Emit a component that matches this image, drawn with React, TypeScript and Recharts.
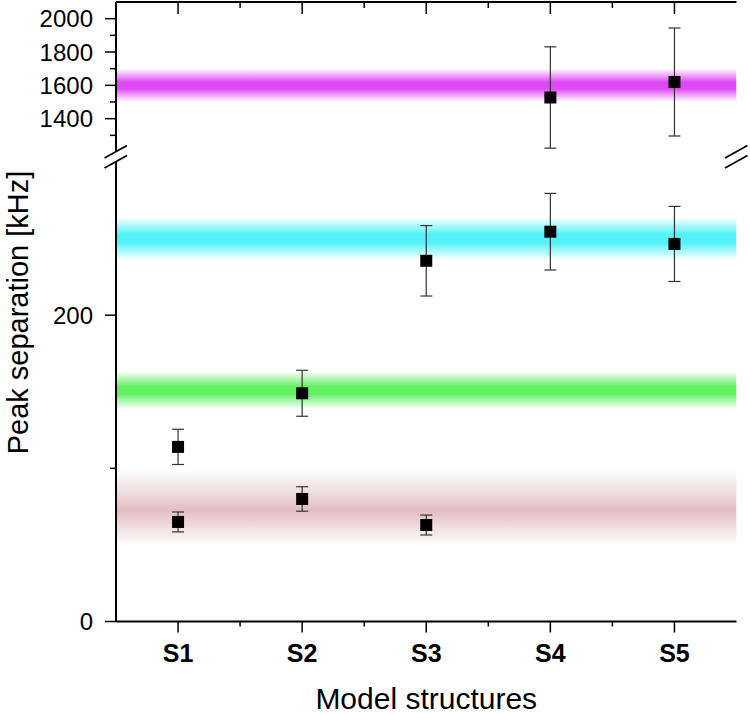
import { ScatterChart, Scatter, XAxis, YAxis, ErrorBar, ReferenceArea } from 'recharts'

const structures = ['S1', 'S2', 'S3', 'S4', 'S5']
const minorX = [1.5, 2.5, 3.5, 4.5]

const peakStructure = ['S1', 'S1', 'S2', 'S2', 'S3', 'S3', 'S4', 'S4', 'S5', 'S5']
const peakValue = [114, 65, 149, 80, 235.5, 63, 254.5, 1527, 246.5, 1620]
const peakError = [11.5, 6.5, 15, 8, 23, 6.5, 25, 304, 24.5, 324]

const bandCenter = [75, 151, 250, 1600]
const bandHalf = [25, 12.5, 14, 100]
const bandColor = ['#dfb6bb', '#62f062', '#52f2f6', '#de48f7']

const lowerDomain = [0, 300]
const upperDomain = [1200, 2100]
const lowerMajor = [0, 200]
const lowerMinor = [100]
const upperMajor = [1400, 1600, 1800, 2000]
const upperMinor = [1300, 1500, 1700, 1900]

const W = 750
const H = 714
const LEFT = 116
const RIGHT = 736.5
const TOP = 2
const BREAK_TOP = 152
const BREAK_BOTTOM = 162
const BOTTOM = 621.5

const points = peakStructure.map((s, i) => ({
  x: structures.indexOf(s) + 1,
  y: peakValue[i],
  err: peakError[i],
}))
const lowerPoints = points.filter((p) => p.y <= lowerDomain[1])
const upperPoints = points.filter((p) => p.y >= upperDomain[0])

const xTicks = [...structures.map((_, i) => i + 1), ...minorX].sort((a, b) => a - b)

function YTick(props: any) {
  const { x, y, payload, major } = props
  const isMajor = major.includes(payload.value)
  return (
    <g>
      <line x1={x - (isMajor ? 11 : 6)} x2={x} y1={y} y2={y} stroke="#000" strokeWidth={1.5} />
      {isMajor && (
        <text x={x - 23} y={y} dy="0.36em" textAnchor="end" fontSize={24} fill="#000">
          {payload.value}
        </text>
      )}
    </g>
  )
}

function XTickBottom(props: any) {
  const { x, y, payload } = props
  const isMajor = Number.isInteger(payload.value)
  return (
    <g>
      <line x1={x} x2={x} y1={y} y2={y + (isMajor ? 11 : 5)} stroke="#000" strokeWidth={1.5} />
      {isMajor && (
        <text x={x} y={y + 31.5} dy="0.36em" textAnchor="middle" fontSize={25} fontWeight="bold" fill="#000">
          {structures[payload.value - 1]}
        </text>
      )}
    </g>
  )
}

function XTickTop(props: any) {
  const { x, y, payload } = props
  const isMajor = Number.isInteger(payload.value)
  return <line x1={x} x2={x} y1={y} y2={y + (isMajor ? 12 : 6)} stroke="#000" strokeWidth={1.5} />
}

const square = (p: any) => <rect x={p.cx - 6} y={p.cy - 6} width={12} height={12} fill="#000" />

function Bands() {
  return bandCenter.map((c, i) => (
    <ReferenceArea
      key={i}
      y1={c - bandHalf[i]}
      y2={c + bandHalf[i]}
      fill={`url(#band${i})`}
      fillOpacity={1}
      stroke="none"
      ifOverflow="hidden"
    />
  ))
}

export default function App() {
  return (
    <div
      style={{
        position: 'absolute',
        left: 0,
        top: 0,
        width: W,
        height: H,
        background: '#fff',
        fontFamily: '"Liberation Sans", Arial, sans-serif',
      }}
    >
      <svg width={0} height={0} style={{ position: 'absolute' }}>
        <defs>
          {bandColor.map((col, i) =>
            i === 0 ? (
              <linearGradient key={i} id={`band${i}`} x1="0" y1="0" x2="0" y2="1">
                <stop offset="0" stopColor={col} stopOpacity={0} />
                <stop offset="0.3" stopColor={col} stopOpacity={0.45} />
                <stop offset="0.55" stopColor={col} stopOpacity={0.9} />
                <stop offset="0.8" stopColor={col} stopOpacity={0.4} />
                <stop offset="1" stopColor={col} stopOpacity={0} />
              </linearGradient>
            ) : (
              <linearGradient key={i} id={`band${i}`} x1="0" y1="0" x2="0" y2="1">
                <stop offset="0" stopColor={col} stopOpacity={0} />
                <stop offset="0.25" stopColor={col} stopOpacity={0.6} />
                <stop offset="0.4" stopColor={col} stopOpacity={1} />
                <stop offset="0.6" stopColor={col} stopOpacity={1} />
                <stop offset="0.75" stopColor={col} stopOpacity={0.6} />
                <stop offset="1" stopColor={col} stopOpacity={0} />
              </linearGradient>
            )
          )}
        </defs>
      </svg>

      <div style={{ position: 'absolute', left: 0, top: 0 }}>
        <ScatterChart
          width={W}
          height={H}
          margin={{ top: BREAK_BOTTOM, right: W - RIGHT, bottom: 0, left: 0 }}
        >
          <XAxis
            dataKey="x"
            type="number"
            domain={[0.5, 5.5]}
            ticks={xTicks}
            interval={0}
            height={H - BOTTOM}
            tickSize={0}
            tickMargin={0}
            tickLine={false}
            axisLine={{ stroke: '#000', strokeWidth: 2 }}
            tick={XTickBottom}
            label={{ value: 'Model structures', position: 'insideBottom', offset: 5, fontSize: 30, fill: '#000' }}
          />
          <YAxis
            dataKey="y"
            type="number"
            domain={lowerDomain}
            allowDataOverflow
            ticks={[...lowerMajor, ...lowerMinor]}
            interval={0}
            width={LEFT}
            tickSize={0}
            tickMargin={0}
            tickLine={false}
            axisLine={{ stroke: '#000', strokeWidth: 2 }}
            tick={(p: any) => <YTick {...p} major={lowerMajor} />}
          />
          <YAxis
            yAxisId="r"
            orientation="right"
            type="number"
            domain={[0, 1]}
            width={0}
            tick={false}
            tickLine={false}
            axisLine={{ stroke: '#000', strokeWidth: 2 }}
          />
          {Bands()}
          <Scatter data={lowerPoints} shape={square} isAnimationActive={false}>
            <ErrorBar dataKey="err" direction="y" width={6} stroke="#333" strokeWidth={1.2} />
          </Scatter>
        </ScatterChart>
      </div>

      <div style={{ position: 'absolute', left: 0, top: 0 }}>
        <ScatterChart
          width={W}
          height={BREAK_TOP + 8}
          margin={{ top: TOP, right: W - RIGHT, bottom: 8, left: 0 }}
        >
          <XAxis
            dataKey="x"
            type="number"
            orientation="top"
            mirror
            domain={[0.5, 5.5]}
            ticks={xTicks}
            interval={0}
            tickSize={0}
            tickMargin={0}
            tickLine={false}
            axisLine={{ stroke: '#000', strokeWidth: 2 }}
            tick={XTickTop}
          />
          <YAxis
            dataKey="y"
            type="number"
            domain={upperDomain}
            allowDataOverflow
            ticks={[...upperMajor, ...upperMinor]}
            interval={0}
            width={LEFT}
            tickSize={0}
            tickMargin={0}
            tickLine={false}
            axisLine={{ stroke: '#000', strokeWidth: 2 }}
            tick={(p: any) => <YTick {...p} major={upperMajor} />}
          />
          <YAxis
            yAxisId="r"
            orientation="right"
            type="number"
            domain={[0, 1]}
            width={0}
            tick={false}
            tickLine={false}
            axisLine={{ stroke: '#000', strokeWidth: 2 }}
          />
          {Bands()}
          <Scatter data={upperPoints} shape={square} isAnimationActive={false}>
            <ErrorBar dataKey="err" direction="y" width={6} stroke="#333" strokeWidth={1.2} />
          </Scatter>
        </ScatterChart>
      </div>

      <svg width={W} height={H} style={{ position: 'absolute', left: 0, top: 0, pointerEvents: 'none' }}>
        <text
          x={28}
          y={312.5}
          transform="rotate(-90 28 312.5)"
          textAnchor="middle"
          fontSize={29}
          fill="#000"
        >
          Peak separation [kHz]
        </text>
        <g stroke="#000" strokeWidth={1.8}>
          <line x1={LEFT - 11.5} y1={BREAK_TOP + 6} x2={LEFT + 11} y2={BREAK_TOP - 6.5} />
          <line x1={LEFT - 11.5} y1={BREAK_BOTTOM + 6} x2={LEFT + 11} y2={BREAK_BOTTOM - 6.5} />
          <line x1={RIGHT - 11.5} y1={BREAK_TOP + 6} x2={RIGHT + 11} y2={BREAK_TOP - 6.5} />
          <line x1={RIGHT - 11.5} y1={BREAK_BOTTOM + 6} x2={RIGHT + 11} y2={BREAK_BOTTOM - 6.5} />
        </g>
      </svg>
    </div>
  )
}
